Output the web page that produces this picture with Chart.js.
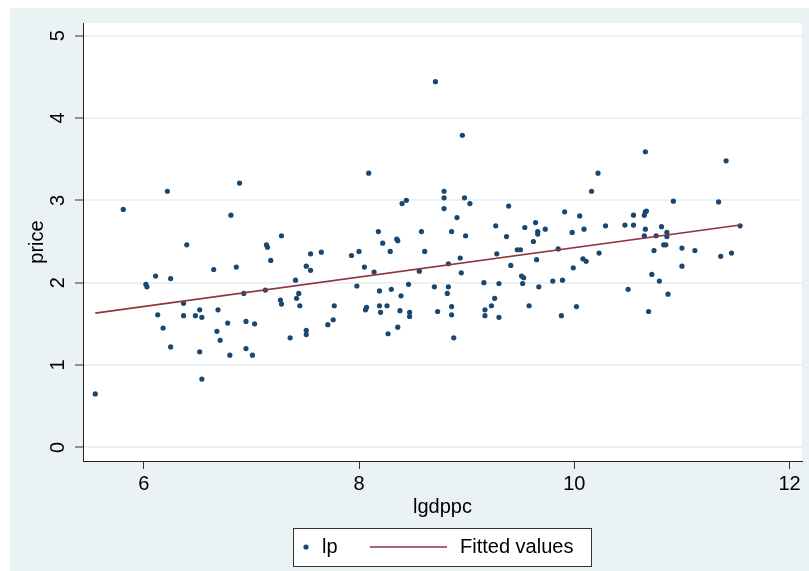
<!DOCTYPE html>
<html>
<head>
<meta charset="utf-8">
<script src="https://cdn.jsdelivr.net/npm/chart.js@4"></script>
<style>
  body { margin: 0; background: #fff; }
  #wrap { width: 809px; height: 571px; }
</style>
</head>
<body>
<div id="wrap"><canvas id="myChart" width="809" height="571"></canvas></div>
<script>
// log GDP per capita vs log price
const lgdppc = [
    5.55, 5.81, 6.02, 6.03, 6.11, 6.13, 6.18, 6.22, 6.25, 6.25,
    6.37, 6.37, 6.40, 6.48, 6.52, 6.54, 6.52, 6.54, 6.65, 6.69,
    6.68, 6.71, 6.78, 6.80, 6.81, 6.86, 6.89, 6.93, 6.95, 6.95,
    7.01, 7.03, 7.13, 7.14, 7.15, 7.18, 7.27, 7.28, 7.28, 7.36,
    7.41, 7.42, 7.44, 7.45, 7.51, 7.51, 7.51, 7.55, 7.55, 7.65,
    7.71, 7.76, 7.77, 7.93, 7.98, 8.00, 8.05, 8.06, 8.07, 8.09,
    8.14, 8.18, 8.19, 8.19, 8.20, 8.22, 8.26, 8.27, 8.29, 8.30,
    8.35, 8.36, 8.36, 8.38, 8.39, 8.40, 8.44, 8.46, 8.47, 8.47,
    8.56, 8.58, 8.61, 8.70, 8.71, 8.73, 8.79, 8.79, 8.79, 8.82,
    8.83, 8.83, 8.86, 8.86, 8.86, 8.88, 8.91, 8.94, 8.95, 8.96,
    8.98, 8.99, 9.03, 9.16, 9.17, 9.17, 9.23, 9.26, 9.27, 9.28,
    9.30, 9.30, 9.37, 9.39, 9.41, 9.47, 9.50, 9.51, 9.53, 9.52,
    9.54, 9.58, 9.62, 9.64, 9.65, 9.66, 9.66, 9.67, 9.73, 9.80,
    9.85, 9.88, 9.89, 9.91, 9.98, 9.99, 10.02, 10.05, 10.08, 10.09,
    10.11, 10.16, 10.22, 10.23, 10.29, 10.47, 10.50, 10.55, 10.55, 10.65,
    10.66, 10.67, 10.66, 10.66, 10.65, 10.69, 10.72, 10.74, 10.76, 10.79,
    10.81, 10.83, 10.85, 10.86, 10.86, 10.87, 10.92, 11.00, 11.00, 11.12,
    11.34, 11.36, 11.41, 11.46, 11.54
];
const lp = [
    0.65, 2.89, 1.98, 1.95, 2.08, 1.61, 1.45, 3.11, 2.05, 1.22,
    1.75, 1.60, 2.46, 1.60, 1.67, 1.58, 1.16, 0.83, 2.16, 1.67,
    1.41, 1.30, 1.51, 1.12, 2.82, 2.19, 3.21, 1.87, 1.53, 1.20,
    1.12, 1.50, 1.91, 2.46, 2.43, 2.27, 1.79, 1.74, 2.57, 1.33,
    2.03, 1.81, 1.87, 1.72, 2.20, 1.42, 1.37, 2.35, 2.15, 2.37,
    1.49, 1.55, 1.72, 2.33, 1.96, 2.38, 2.19, 1.67, 1.70, 3.33,
    2.13, 2.62, 1.90, 1.72, 1.64, 2.48, 1.72, 1.38, 2.38, 1.92,
    2.53, 2.51, 1.46, 1.66, 1.84, 2.96, 3.00, 1.98, 1.64, 1.59,
    2.14, 2.62, 2.38, 1.95, 4.44, 1.65, 3.11, 3.03, 2.90, 1.87,
    1.95, 2.23, 2.62, 1.71, 1.61, 1.33, 2.79, 2.30, 2.12, 3.79,
    3.03, 2.57, 2.96, 2.00, 1.67, 1.60, 1.72, 1.81, 2.69, 2.35,
    1.99, 1.58, 2.56, 2.93, 2.21, 2.40, 2.40, 2.08, 2.06, 1.99,
    2.67, 1.72, 2.50, 2.73, 2.28, 2.62, 2.59, 1.95, 2.65, 2.02,
    2.41, 1.60, 2.03, 2.86, 2.61, 2.18, 1.71, 2.81, 2.29, 2.65,
    2.26, 3.11, 3.33, 2.36, 2.69, 2.70, 1.92, 2.70, 2.82, 2.82,
    2.86, 2.87, 3.59, 2.65, 2.57, 1.65, 2.10, 2.39, 2.57, 2.02,
    2.68, 2.46, 2.46, 2.61, 2.56, 1.86, 2.99, 2.42, 2.20, 2.39,
    2.98, 2.32, 3.48, 2.36, 2.69
];

// regression line, ends at min and max of lgdppc
const fitX = [5.55, 11.54];
const fitY = [1.63, 2.70];

const xTicks = [6, 8, 10, 12];
const yTicks = [0, 1, 2, 3, 4, 5];

const navy = '#1A476F';
const maroon = '#90353B';
const fontFamily = '"Liberation Sans", Arial, Helvetica, sans-serif';

const backdrop = {
    id: 'backdrop',
    beforeDraw(chart) {
        const { ctx, chartArea: a } = chart;
        ctx.save();
        ctx.fillStyle = '#EAF2F3';
        ctx.fillRect(10, 8, chart.width - 10, chart.height - 8);
        ctx.fillStyle = '#ffffff';
        ctx.fillRect(a.left, a.top, a.right - a.left, a.bottom - a.top);
        ctx.restore();
    }
};

// boxed legend under the x title
const boxLegend = {
    id: 'boxLegend',
    afterDraw(chart) {
        const { ctx } = chart;
        const sets = chart.data.datasets;
        const cy = 547;
        ctx.save();
        ctx.fillStyle = '#ffffff';
        ctx.fillRect(293, 528, 298, 38);
        ctx.strokeStyle = '#333';
        ctx.lineWidth = 1;
        ctx.strokeRect(293.5, 528.5, 298, 38);

        ctx.fillStyle = navy;
        ctx.beginPath();
        ctx.arc(306, cy, 2.6, 0, Math.PI * 2);
        ctx.fill();

        ctx.strokeStyle = maroon;
        ctx.lineWidth = 1.6;
        ctx.beginPath();
        ctx.moveTo(370, cy);
        ctx.lineTo(447, cy);
        ctx.stroke();

        ctx.fillStyle = '#000';
        ctx.font = '20px ' + fontFamily;
        ctx.textBaseline = 'middle';
        ctx.textAlign = 'left';
        ctx.fillText(sets[0].label, 322, cy);
        ctx.fillText(sets[1].label, 460, cy);
        ctx.restore();
    }
};

const ctx = document.getElementById('myChart');

new Chart(ctx, {
    data: {
        datasets: [
            {
                type: 'scatter',
                label: 'lp',
                data: lgdppc.map((x, i) => ({ x: x, y: lp[i] })),
                backgroundColor: navy,
                borderWidth: 0,
                pointRadius: 2.6,
                order: 1
            },
            {
                type: 'line',
                label: 'Fitted values',
                data: fitX.map((x, i) => ({ x: x, y: fitY[i] })),
                borderColor: maroon,
                borderWidth: 1.6,
                pointRadius: 0,
                fill: false,
                order: 0
            }
        ]
    },
    options: {
        responsive: false,
        devicePixelRatio: 1,
        animation: false,
        layout: { padding: { top: 19, right: 7, left: 0, bottom: 0 } },
        plugins: {
            legend: { display: false },
            tooltip: { enabled: false }
        },
        scales: {
            x: {
                type: 'linear',
                min: 5.436,
                max: 12.115,
                afterBuildTicks: (s) => { s.ticks = xTicks.map(v => ({ value: v })); },
                afterFit: (s) => { s.height = 110; },
                ticks: {
                    font: { family: fontFamily, size: 20 },
                    color: '#000',
                    padding: 3,
                    maxRotation: 0
                },
                grid: {
                    drawOnChartArea: false,
                    tickLength: 8,
                    tickColor: '#333',
                    tickWidth: 1
                },
                border: { color: '#222', width: 1 },
                title: {
                    display: true,
                    text: 'lgdppc',
                    color: '#000',
                    font: { family: fontFamily, size: 20 },
                    padding: { top: 0, bottom: 52 }
                }
            },
            y: {
                type: 'linear',
                min: -0.165,
                max: 5.153,
                afterBuildTicks: (s) => { s.ticks = yTicks.map(v => ({ value: v })); },
                afterFit: (s) => { s.width = 83; },
                ticks: {
                    font: { family: fontFamily, size: 20 },
                    color: '#000',
                    minRotation: 90,
                    maxRotation: 90,
                    crossAlign: 'center',
                    padding: 11
                },
                grid: {
                    color: '#EAF2F3',
                    lineWidth: 2,
                    tickLength: 8,
                    tickColor: '#333',
                    tickWidth: 1
                },
                border: { color: '#222', width: 1 },
                title: {
                    display: true,
                    text: 'price',
                    color: '#000',
                    font: { family: fontFamily, size: 20 },
                    padding: { top: 25, bottom: 0 }
                }
            }
        }
    },
    plugins: [backdrop, boxLegend]
});
</script>
</body>
</html>
